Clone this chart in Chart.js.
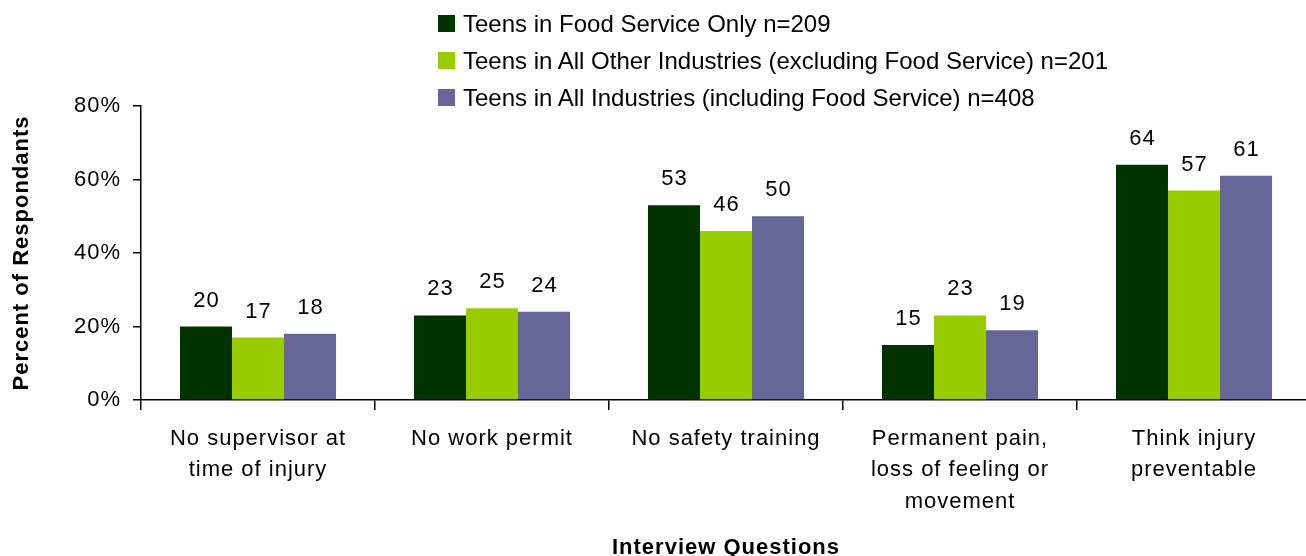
<!DOCTYPE html>
<html>
<head>
<meta charset="utf-8">
<script src="https://cdn.jsdelivr.net/npm/chart.js@4"></script>
<style>
  html, body { margin: 0; padding: 0; background: #fff; overflow: hidden; }
  #wrap { position: relative; width: 1306px; height: 556px; overflow: hidden; }
  #legend { position: absolute; left: 438px; top: 5px; font: 24px "Liberation Sans", Arial, sans-serif; color: #000; white-space: nowrap; }
  #legend .item { height: 37px; display: flex; align-items: center; }
  #legend .sw { width: 17px; height: 17px; margin-right: 8px; }
</style>
</head>
<body>
<div id="wrap">
  <canvas id="chart" width="1311" height="556"></canvas>
  <div id="legend"></div>
</div>
<script>
// categories + series
const categories = [
  ['No supervisor at', 'time of injury'],
  ['No work permit'],
  ['No safety training'],
  ['Permanent pain,', 'loss of feeling or', 'movement'],
  ['Think injury', 'preventable'],
];
const seriesNames = [
  'Teens in Food Service Only n=209',
  'Teens in All Other Industries (excluding Food Service) n=201',
  'Teens in All Industries (including Food Service) n=408',
];
const foodService = [20, 23, 53, 15, 64];
const otherIndustries = [17, 25, 46, 23, 57];
const allIndustries = [18, 24, 50, 19, 61];
const seriesColors = ['#003300', '#99cc00', '#666699'];
const yTicks = [0, 20, 40, 60, 80];

const FONT = '"Liberation Sans", Arial, sans-serif';

// legend is plain html so the rows stack like the original
document.getElementById('legend').innerHTML = seriesNames.map((n, i) =>
  `<div class="item"><span class="sw" style="background:${seriesColors[i]}"></span>${n}</div>`
).join('');

// original axis text is a bit spaced out
const spacing = {
  id: 'spacing',
  beforeDraw(chart) { chart.ctx.letterSpacing = '1px'; },
};

// value labels above each bar
const barLabels = {
  id: 'barLabels',
  afterDatasetsDraw(chart) {
    const ctx = chart.ctx;
    ctx.save();
    ctx.font = '22px ' + FONT;
    ctx.fillStyle = '#000';
    ctx.textAlign = 'center';
    ctx.textBaseline = 'alphabetic';
    chart.data.datasets.forEach((ds, i) => {
      chart.getDatasetMeta(i).data.forEach((bar, j) => {
        ctx.fillText(ds.data[j], bar.x + 0.5, bar.y - 20);
      });
    });
    ctx.restore();
  },
};

// canvas is 5px wider than the window: the plot runs past the right edge in the original
new Chart(document.getElementById('chart'), {
  type: 'bar',
  data: {
    labels: categories,
    datasets: [foodService, otherIndustries, allIndustries].map((d, i) => ({
      label: seriesNames[i],
      data: d,
      backgroundColor: seriesColors[i],
      borderWidth: 0,
      barPercentage: 1,
      categoryPercentage: 0.667,
    })),
  },
  options: {
    responsive: false,
    animation: false,
    layout: { padding: { top: 106, right: 0, left: 0, bottom: 0 } },
    plugins: { legend: { display: false }, tooltip: { enabled: false } },
    scales: {
      x: {
        grid: { offset: true, drawOnChartArea: false, color: '#000', tickLength: 10, lineWidth: 1.5 },
        border: { color: '#000', width: 1.5 },
        ticks: { color: '#000', font: { family: FONT, size: 22, lineHeight: 1.432 }, padding: 13, maxRotation: 0, autoSkip: false },
        title: { display: true, text: 'Interview Questions', color: '#000', font: { family: FONT, size: 22, weight: 'bold' }, padding: { top: 0, bottom: -5 } },
        afterFit(s) { s.height = 156; },
      },
      y: {
        min: 0, max: 80,
        afterBuildTicks(s) { s.ticks = yTicks.map(v => ({ value: v })); },
        grid: { drawOnChartArea: false, color: '#000', tickLength: 8, lineWidth: 1.5 },
        border: { color: '#000', width: 1.5 },
        ticks: { color: '#000', font: { family: FONT, size: 22 }, padding: 12, callback: v => v + '%' },
        title: { display: true, text: 'Percent of Respondants', color: '#000', font: { family: FONT, size: 22, weight: 'bold' }, padding: 9 },
        afterFit(s) { s.width = 141; },
      },
    },
  },
  plugins: [spacing, barLabels],
});
</script>
</body>
</html>
